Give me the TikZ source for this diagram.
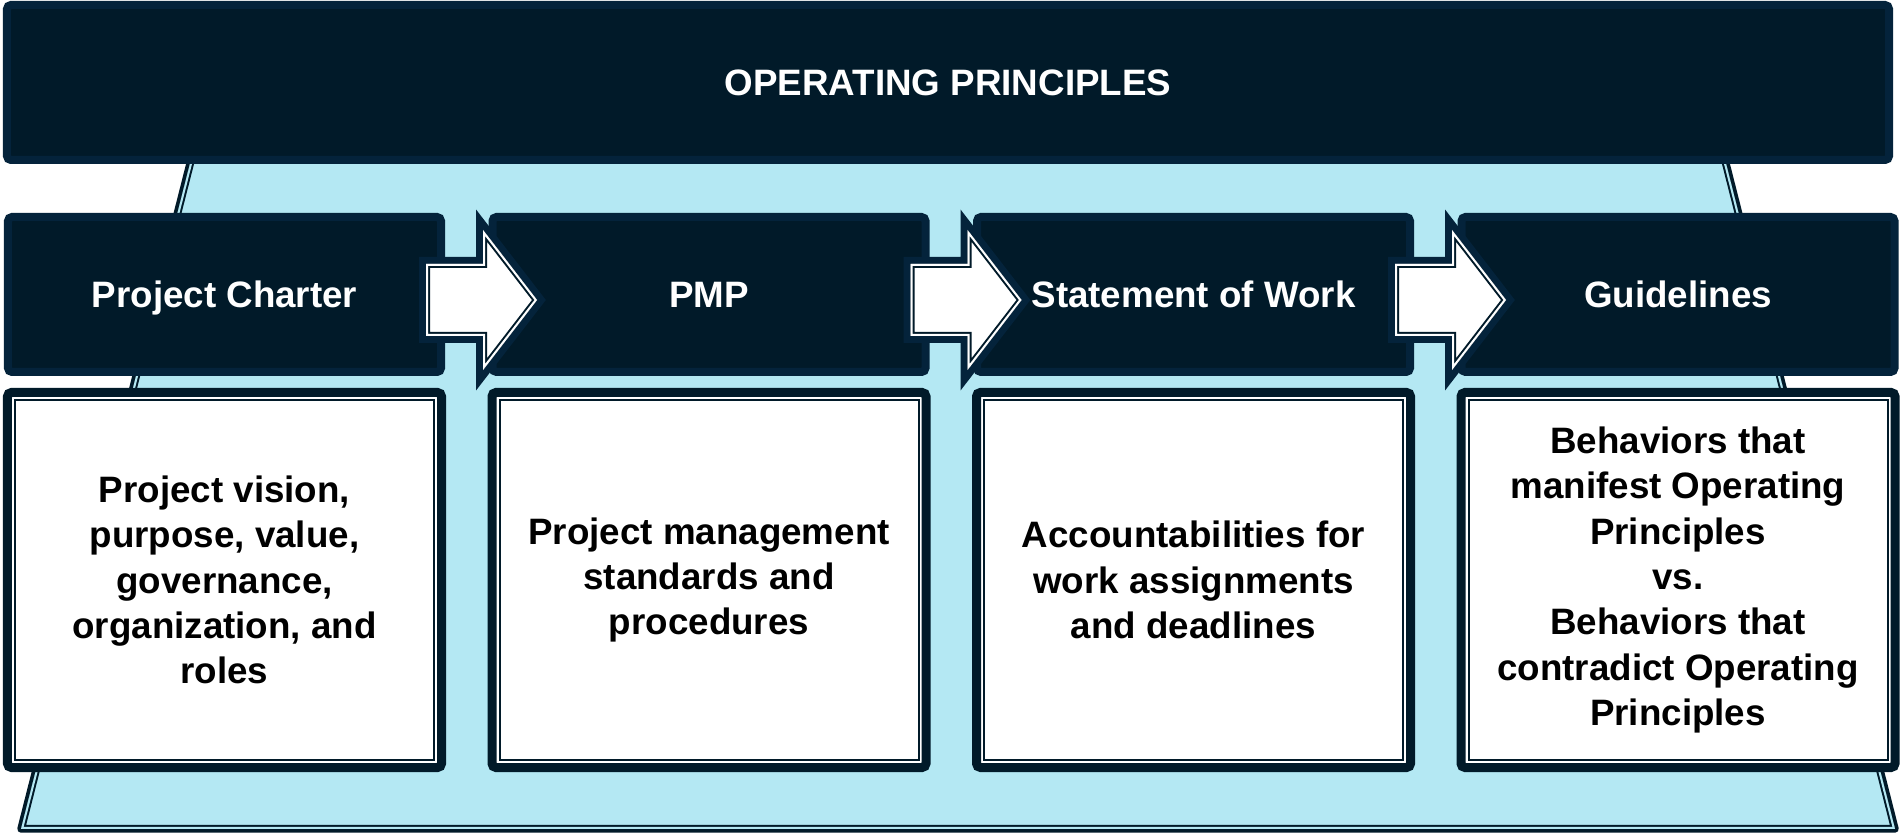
\documentclass[tikz,border=0pt]{standalone}
\usepackage{fontspec}
\setmainfont{Liberation Sans}
\usetikzlibrary{calc}
\definecolor{navy}{HTML}{011A29}
\definecolor{navyedge}{HTML}{04233B}
\definecolor{skycol}{HTML}{B4E8F3}
\newcommand\barfont{\fontsize{14.7pt}{17.6pt}\selectfont\bfseries}
\newcommand\cardfont{\fontsize{14.7pt}{18.1pt}\selectfont\bfseries}
\tikzset{
  bar/.style={fill=navy,draw=navyedge,line width=3.2pt,rounded corners=1.6pt,
              outer sep=0pt,inner sep=0pt,text=white,font=\barfont,
              text height=10.5pt,text depth=0pt,minimum height=62pt},
  card/.style={fill=white,draw=navy,line width=3.6pt,rounded corners=1.6pt,
               outer sep=0pt,inner sep=0pt,align=center,font=\cardfont,
               minimum width=173.6pt,minimum height=150pt},
  cardline/.style={draw=navy,line width=0.8pt}}
\def\arrowshape{(-15,-36) -- (42,-36) -- (42,-70) -- (96,0) -- (42,70) -- (42,36) -- (-15,36) -- cycle}
\def\trapshape{(196,140) -- (1720,140) -- (1895,829) -- (21,829) -- cycle}
\newcommand\blockArrow[1]{
  \begin{scope}[shift={($(#1.east)+(0,5.5)$)}]
    \draw[navyedge,line width=5.6pt] \arrowshape;
    \fill[white] \arrowshape;
    \begin{scope}
      \clip \arrowshape;
      \draw[navy,line width=3.2pt] \arrowshape;
      \draw[white,line width=1.6pt] \arrowshape;
    \end{scope}
  \end{scope}
}
\newcommand\cardLine[1]{
  \draw[cardline] ($(#1.north west)+(7.5,7.5)$) rectangle ($(#1.south east)+(-7.5,-7.5)$);
}

\begin{document}
\begin{tikzpicture}[x=0.4pt,y=-0.4pt]
  \useasboundingbox (0,0) rectangle (1900,837);
  \def\step{484.5}
  \def\first{224.5}
  \def\hy{294.5}
  \def\cy{580}

  % BASE
  \draw[navy,line width=3pt,line join=round] \trapshape;
  \fill[skycol] \trapshape;
  \begin{scope}
    \clip \trapshape;
    \draw[navy,line width=3.2pt] \trapshape;
    \draw[skycol,line width=1.6pt] \trapshape;
  \end{scope}

  % TITLE
  \node[bar,minimum width=752.8pt] (top) at (948,82.5) {OPERATING PRINCIPLES};

  % STAGES
  \node[bar,minimum width=173.2pt] (h1) at (\first,\hy) {Project Charter};
  \node[bar,minimum width=173.2pt] (h2) at (\first+\step,\hy) {PMP};
  \node[bar,minimum width=173.2pt] (h3) at (\first+2*\step,\hy) {Statement of Work};
  \node[bar,minimum width=173.2pt] (h4) at (\first+3*\step,\hy) {Guidelines};
  \blockArrow{h1}
  \blockArrow{h2}
  \blockArrow{h3}

  % CONTENTS
  \node[card] (c1) at (\first,\cy) {Project vision,\\purpose, value,\\governance,\\organization, and\\roles};
  \node[card] (c2) at (\first+\step,\cy) {Project management\\standards and\\procedures};
  \node[card] (c3) at (\first+2*\step,\cy) {Accountabilities for\\work assignments\\and deadlines};
  \node[card] (c4) at (\first+3*\step,\cy) {Behaviors that\\manifest Operating\\Principles\\vs.\\Behaviors that\\contradict Operating\\Principles};
  \cardLine{c1}
  \cardLine{c2}
  \cardLine{c3}
  \cardLine{c4}

\end{tikzpicture}
\end{document}
